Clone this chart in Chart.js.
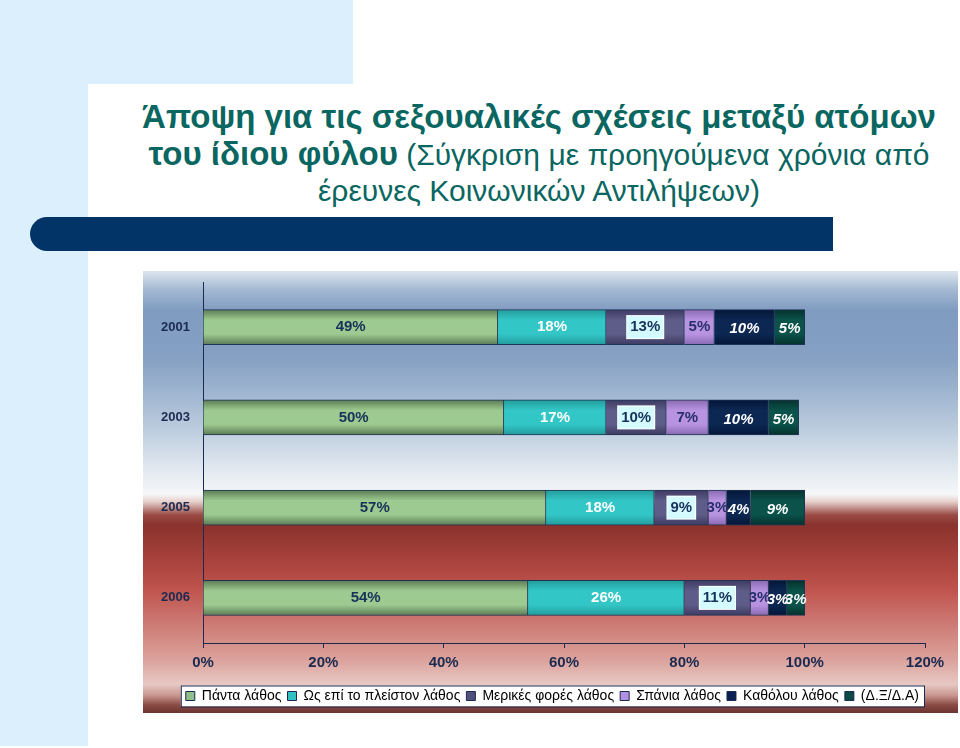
<!DOCTYPE html>
<html>
<head>
<meta charset="utf-8">
<script src="https://cdn.jsdelivr.net/npm/chart.js@4.4.1/dist/chart.umd.min.js"></script>
<style>
body { margin: 0; width: 960px; height: 748px; position: relative; overflow: hidden; background: #fff; font-family: "Liberation Sans", Arial, sans-serif; }
#blueTop { position: absolute; left: 0; top: 0; width: 353px; height: 84px; background: #dbf0fc; }
#blueLeft { position: absolute; left: 0; top: 0; width: 88px; height: 746px; background: #dbf0fc; }
#panel { position: absolute; left: 88px; top: 84px; width: 872px; height: 664px; background: #fff; border-top-left-radius: 34px; }
#title { position: absolute; left: 120px; top: 99px; width: 838px; text-align: center; color: #0a6660; line-height: 36px; font-family: "Liberation Sans", Arial, sans-serif; font-size: 30px; }
#title b { font-size: 33px; }
#navy { position: absolute; left: 30px; top: 217px; width: 803px; height: 34px; background: #033468; border-radius: 17px 0 0 17px; }
#wrap { position: absolute; left: 143px; top: 271px; width: 815px; height: 442px; }
</style>
</head>
<body>
<div id="blueTop"></div>
<div id="blueLeft"></div>
<div id="panel"></div>
<div id="title"><b>Άποψη για τις σεξουαλικές σχέσεις μεταξύ ατόμων</b><br><b>του ίδιου φύλου</b> (Σύγκριση με προηγούμενα χρόνια από<br>έρευνες Κοινωνικών Αντιλήψεων)</div>
<div id="navy"></div>
<div id="wrap"><canvas id="chart" width="815" height="442"></canvas></div>
<script>
var years = ['2001', '2003', '2005', '2006'];
var alwaysWrong = [49, 50, 57, 54];
var mostlyWrong = [18, 17, 18, 26];
var sometimesWrong = [13, 10, 9, 11];
var rarelyWrong = [5, 7, 3, 3];
var neverWrong = [10, 10, 4, 3];
var dontKnow = [5, 5, 9, 3];
var seriesNames = ['Πάντα λάθος', 'Ως επί το πλείστον λάθος', 'Μερικές φορές λάθος', 'Σπάνια λάθος', 'Καθόλου λάθος', '(Δ.Ξ/Δ.Α)'];
var xTicks = [0, 20, 40, 60, 80, 100, 120];

var lightColors = ['#9dca90', '#33c6c6', '#5e5c88', '#b893e2', '#0b2752', '#0a524a'];
var darkColors = ['#5b7b55', '#239c9c', '#3d3b62', '#8a6ab2', '#051638', '#05312c'];
var legendColors = ['#8fc08a', '#30c0c0', '#50507a', '#b090e0', '#0a2050', '#0a4a44'];
var labelColors = ['#17325a', '#ffffff', '#17325a', '#28306a', '#ffffff', '#ffffff'];
var AXIS = '#1a2a50';
var BAR_H = 35;
var FONT = '"Liberation Sans", Arial, sans-serif';

function barFill(i) {
    return function (ctx) {
        var yScale = ctx.chart.scales.y;
        if (!yScale || ctx.type !== 'data') {
            return lightColors[i];
        }
        var cy = yScale.getPixelForValue(ctx.dataIndex);
        var g = ctx.chart.ctx.createLinearGradient(0, cy - BAR_H / 2, 0, cy + BAR_H / 2);
        g.addColorStop(0, darkColors[i]);
        g.addColorStop(0.3, lightColors[i]);
        g.addColorStop(0.7, lightColors[i]);
        g.addColorStop(1, darkColors[i]);
        return g;
    };
}

var seriesData = [alwaysWrong, mostlyWrong, sometimesWrong, rarelyWrong, neverWrong, dontKnow];
var datasets = seriesData.map(function (values, i) {
    return {
        label: seriesNames[i],
        data: values,
        backgroundColor: barFill(i),
        borderColor: '#1f3355',
        borderWidth: 1,
        barThickness: BAR_H
    };
});

// page background of the chart block
var backdrop = {
    id: 'backdrop',
    beforeDraw: function (chart) {
        var ctx = chart.ctx;
        var h = chart.height;
        var g = ctx.createLinearGradient(0, 0, 0, h);
        var stops = [
            [0, '#dde6ee'], [0.043, '#a3b8d2'], [0.09, '#7f9bc0'], [0.2, '#86a1c4'],
            [0.337, '#b4c6da'], [0.45, '#e2e9f0'], [0.505, '#f6f7f9'], [0.522, '#e6cfcb'],
            [0.552, '#9a4a44'], [0.575, '#8a322c'], [0.654, '#a8423c'], [0.722, '#c0544e'],
            [0.79, '#cc7670'], [0.88, '#dca29c'], [0.935, '#e8c8c4'], [0.96, '#c8968f'],
            [0.982, '#8a4a44'], [1, '#6a3430']
        ];
        stops.forEach(function (s) { g.addColorStop(s[0], s[1]); });
        ctx.save();
        ctx.fillStyle = g;
        ctx.fillRect(0, 0, chart.width, h);

        // white framed legend box
        var lg = chart.legend;
        if (lg && lg.lineWidths) {
            var pad = lg.options.labels.padding;
            var rowW = lg.lineWidths[0];
            var startX = lg.right - rowW;
            var cy = lg.top + pad + 7;
            ctx.fillStyle = '#ffffff';
            ctx.strokeStyle = AXIS;
            ctx.lineWidth = 1;
            ctx.fillRect(startX - 5, cy - 10.5, rowW - pad + 10, 21);
            ctx.strokeRect(startX - 5 + 0.5, cy - 10.5 + 0.5, rowW - pad + 10, 21);
        }
        ctx.restore();
    }
};

var barLabels = {
    id: 'barLabels',
    afterDatasetsDraw: function (chart) {
        var ctx = chart.ctx;
        ctx.save();
        ctx.textAlign = 'center';
        ctx.textBaseline = 'middle';
        chart.data.datasets.forEach(function (ds, i) {
            var meta = chart.getDatasetMeta(i);
            meta.data.forEach(function (bar, j) {
                var p = bar.getProps(['x', 'y', 'base'], true);
                var cx = (p.x + p.base) / 2;
                var text = ds.data[j] + '%';
                var italic = i >= 4;
                ctx.font = (italic ? 'italic ' : '') + 'bold 15px ' + FONT;
                if (i === 2) {
                    var w = ctx.measureText(text).width + 6;
                    ctx.fillStyle = '#ffffff';
                    ctx.fillRect(cx - w / 2 - 1, p.y - 12, w + 2, 24);
                    ctx.fillStyle = '#d4fbff';
                    ctx.fillRect(cx - w / 2, p.y - 11, w, 22);
                }
                ctx.fillStyle = labelColors[i];
                ctx.fillText(text, cx, p.y + (italic ? 2 : 0));
            });
        });
        ctx.restore();
    }
};

new Chart(document.getElementById('chart'), {
    type: 'bar',
    data: { labels: years, datasets: datasets },
    plugins: [backdrop, barLabels],
    options: {
        indexAxis: 'y',
        responsive: false,
        animation: false,
        layout: { padding: { top: 11, right: 33, bottom: 0, left: 0 } },
        scales: {
            x: {
                stacked: true,
                min: 0,
                max: 120,
                afterBuildTicks: function (scale) {
                    scale.ticks = xTicks.map(function (v) { return { value: v }; });
                },
                afterFit: function (scale) { scale.height = 40; },
                grid: { display: true, drawOnChartArea: false, drawTicks: true, tickLength: 5, color: AXIS },
                border: { display: true, color: AXIS, width: 1 },
                ticks: {
                    padding: 6,
                    color: AXIS,
                    font: { family: FONT, size: 15, weight: 'bold' },
                    callback: function (v) { return v + '%'; }
                }
            },
            y: {
                stacked: true,
                afterFit: function (scale) {
                    scale.width = 60;
                    scale.paddingTop = 0;
                    scale.paddingBottom = 0;
                },
                grid: { display: false, drawTicks: false, tickLength: 0 },
                border: { display: true, color: AXIS, width: 1 },
                ticks: {
                    padding: 13,
                    color: AXIS,
                    font: { family: FONT, size: 13, weight: 'bold' }
                }
            }
        },
        plugins: {
            tooltip: { enabled: false },
            legend: {
                position: 'bottom',
                align: 'end',
                labels: {
                    boxWidth: 9,
                    boxHeight: 9,
                    padding: 6,
                    color: '#000000',
                    font: { family: FONT, size: 14 },
                    generateLabels: function (chart) {
                        return chart.data.datasets.map(function (ds, i) {
                            return {
                                text: ds.label,
                                fillStyle: legendColors[i],
                                strokeStyle: AXIS,
                                lineWidth: 1,
                                datasetIndex: i,
                                hidden: false
                            };
                        });
                    }
                }
            }
        }
    }
});
</script>
</body>
</html>
